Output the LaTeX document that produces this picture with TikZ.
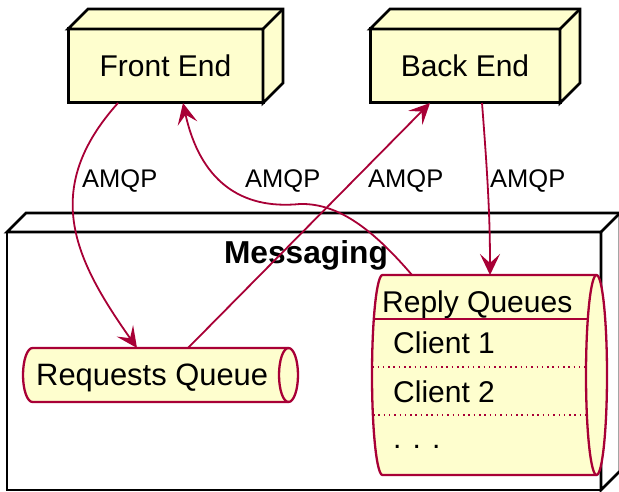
\documentclass[tikz,border=0pt]{standalone}
\usepackage{fontspec}
\setmainfont{Liberation Sans}
\usetikzlibrary{calc,positioning,arrows.meta}
\definecolor{nodefill}{HTML}{FEFECE}
\definecolor{linkred}{HTML}{A80036}

\tikzset{
	box/.style={draw=black, line width=3pt, fill=nodefill, minimum height=74pt, inner sep=0pt, outer sep=0pt, font=\fontsize{30}{36}\selectfont},
	tube/.style={inner sep=0pt, outer sep=0pt},
	tubeline/.style={draw=linkred, line width=2.3pt},
	entry/.style={anchor=base west, inner sep=0pt, font=\fontsize{30}{36}\selectfont},
	link/.style={draw=linkred, line width=1.8pt, -{Stealth[length=21pt,width=20pt,inset=9pt]}},
	lbl/.style={anchor=base west, inner sep=0pt, font=\fontsize{25.5}{30}\selectfont},
}

\begin{document}
\begin{tikzpicture}[x=1pt, y=-1pt]
	\useasboundingbox (0,0) rectangle (619,492);

	% the messaging node and the two servers
	\node[box, fill=white, line width=2.7pt, minimum width=594pt, minimum height=258pt] (msg) at (304,361) {};
	\node[box, minimum width=195pt] (fe) at (165.5,66) {Front End};
	\node[box, minimum width=190pt] (be) at (465,66) {Back End};

	% top and side faces
	\foreach \n/\d/\c in {msg/19/white, fe/20/nodefill, be/20/nodefill} {
		\filldraw[draw=black, fill=\c, line width=2.7pt] (\n.north west) -- ++(\d,-\d) -- ($(\n.north east)+(\d,-\d)$) -- ($(\n.south east)+(\d,-\d)$) -- (\n.south east) -- (\n.north east) -- cycle;
		\draw[line width=2.7pt] (\n.north east) -- ++(\d,-\d);
	}
	\node[anchor=base, inner sep=0pt, font=\bfseries\fontsize{31.7}{38}\selectfont] (msgtitle) at (306,263) {Messaging};

	% queues: left end half an ellipse, right end a whole one
	\node[tube, minimum width=275pt, minimum height=54pt] (rq) at (160.5,375) {};
	\node[tube, minimum width=235pt, minimum height=200pt] (rp) at (489.5,375) {};
	\foreach \n/\rx/\ry in {rq/9.5/27, rp/10.5/100} {
		\filldraw[tubeline, fill=nodefill] ($(\n.north west)+(\rx,0)$) -- ($(\n.north east)+(-\rx,0)$)
			arc[start angle=90, end angle=-90, x radius=\rx pt, y radius=\ry pt]
			-- ($(\n.south west)+(\rx,0)$)
			arc[start angle=270, end angle=90, x radius=\rx pt, y radius=\ry pt] -- cycle;
		\draw[tubeline] ($(\n.north east)+(-\rx,0)$) arc[start angle=90, end angle=270, x radius=\rx pt, y radius=\ry pt];
	}
	\node[entry, font=\fontsize{30.9}{37}\selectfont] (rqtext) at (36,385) {Requests Queue};
	\node[entry] (rptitle) at (382,312) {Reply Queues};
	\node[entry] (client1) at (393,353) {Client 1};
	\node[entry] (client2) at (393,402) {Client 2};
	\node[entry] (more) at (393,448) {. . .};
	\draw[linkred, line width=1.5pt] (373.8,319) -- (587.8,319);
	\draw[linkred, line width=1.3pt, dash pattern=on 1.5pt off 3.8pt] (372.2,367) -- (586,367);
	\draw[linkred, line width=1.3pt, dash pattern=on 1.5pt off 3.8pt] (373,415) -- (587,415);

	% AMQP links
	\draw[link] ([xshift=-47.5pt]fe.south) .. controls (40,190) and (75,260) .. ([xshift=-23.5pt]rq.north);
	\draw[link] ([xshift=27.5pt]rq.north) -- ([xshift=-35pt]be.south);
	\draw[link] ([xshift=17pt]be.south) .. controls (488,180) and (490,220) .. ([xshift=0.5pt]rp.north);
	\draw[link] ([xshift=-77.5pt]rp.north) .. controls (375,232) and (340,203) .. (300,204) .. controls (240,210) and (200,180) .. ([xshift=17.5pt]fe.south);

	\node[lbl] (l1) at (82,188) {AMQP};
	\node[lbl] (l2) at (245,188) {AMQP};
	\node[lbl] (l3) at (368,188) {AMQP};
	\node[lbl] (l4) at (490,188) {AMQP};
\end{tikzpicture}
\end{document}
